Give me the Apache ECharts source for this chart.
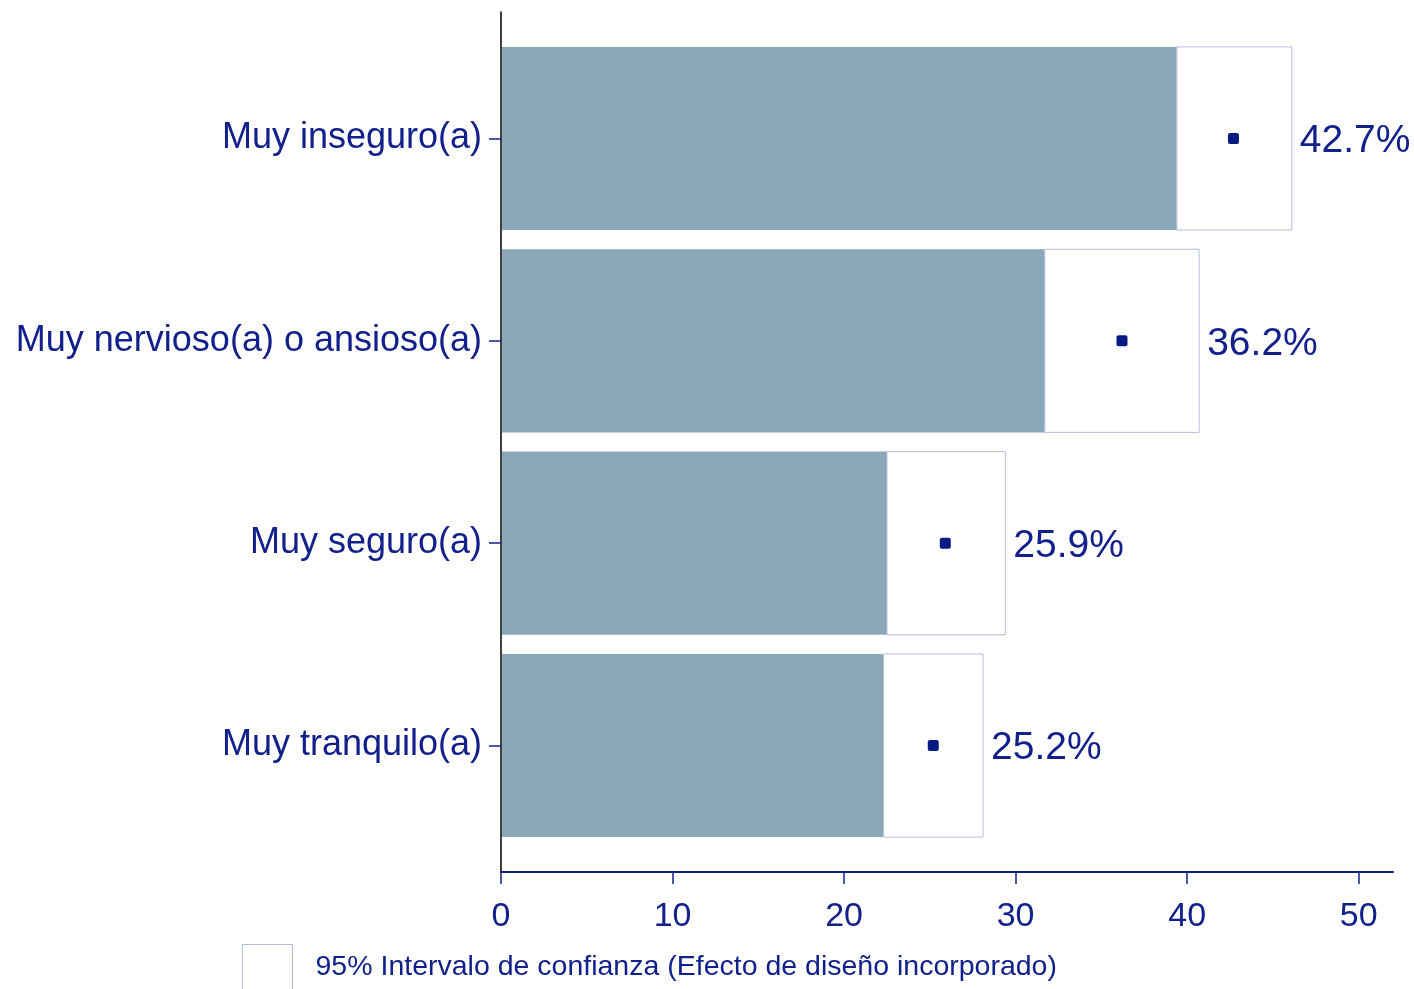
<!DOCTYPE html>
<html>
<head>
<meta charset="utf-8">
<title>Intervalo de confianza</title>
<script src="https://cdn.jsdelivr.net/npm/echarts@6/dist/echarts.min.js"></script>
<style>
  html, body { margin: 0; padding: 0; background: #fff; }
  #chart { width: 1414px; height: 989px; }
</style>
</head>
<body>
<div id="chart"></div>
<script>
// categorias (de arriba hacia abajo)
var categories = ['Muy inseguro(a)', 'Muy nervioso(a) o ansioso(a)', 'Muy seguro(a)', 'Muy tranquilo(a)'];
// estimacion puntual (%)
var estimates = [42.7, 36.2, 25.9, 25.2];
// limites del intervalo de confianza 95%
var lowerCI = [39.4, 31.7, 22.5, 22.3];
var upperCI = [46.1, 40.7, 29.4, 28.1];
var xTicks = [0, 10, 20, 30, 40, 50];

var navy = '#12208c';
var font = '"Liberation Sans", Arial, Helvetica, sans-serif';
var legendName = '95% Intervalo de confianza (Efecto de diseño incorporado)';

var chart = echarts.init(document.getElementById('chart'));

var seriesData = categories.map(function (c, i) {
    return [i, lowerCI[i], upperCI[i], estimates[i]];
});

chart.setOption({
    animation: false,
    backgroundColor: '#fff',
    grid: { left: 501, right: 21, top: 12, bottom: 117 },
    legend: {
        left: 242,
        top: 944,
        padding: 0,
        itemWidth: 50,
        itemHeight: 46,
        icon: 'rect',
        data: [legendName],
        textStyle: { color: navy, fontSize: 28.5, fontFamily: font, padding: [14, 0, 0, 18] },
        itemStyle: { color: '#fff', borderColor: '#b4bcdc', borderWidth: 1 }
    },
    xAxis: {
        type: 'value',
        min: 0,
        max: 52,
        axisLine: { show: true, onZero: false, lineStyle: { color: navy, width: 2 } },
        axisTick: { show: true, length: 12, lineStyle: { color: navy, width: 1.5 }, customValues: xTicks },
        axisLabel: { color: navy, fontSize: 34, fontFamily: font, margin: 28, customValues: xTicks },
        splitLine: { show: false }
    },
    yAxis: {
        type: 'value',
        inverse: true,
        min: -0.625,
        max: 3.625,
        axisLine: { show: true, onZero: false, lineStyle: { color: '#000', width: 1.5 } },
        axisTick: { show: true, length: 12, lineStyle: { color: navy, width: 1.5 }, customValues: [0, 1, 2, 3] },
        axisLabel: {
            color: navy, fontSize: 36, fontFamily: font, margin: 19,
            padding: [12, 0, 0, 0],
            customValues: [0, 1, 2, 3],
            formatter: function (v) { return categories[Math.round(v)]; }
        },
        splitLine: { show: false }
    },
    series: [{
        name: legendName,
        type: 'custom',
        coordinateSystem: 'cartesian2d',
        itemStyle: { color: '#fff', borderColor: '#b4bcdc', borderWidth: 1 },
        encode: { x: [1, 2, 3], y: 0 },
        data: seriesData,
        renderItem: function (params, api) {
            var i = api.value(0);
            var p0 = api.coord([0, i]);
            var pLo = api.coord([api.value(1), i]);
            var pHi = api.coord([api.value(2), i]);
            var pE = api.coord([api.value(3), i]);
            var h = api.size([0, 1])[1] * 0.905;
            var top = p0[1] - h / 2;
            return {
                type: 'group',
                children: [
                    { // barra hasta el limite inferior
                        type: 'rect',
                        shape: { x: p0[0] + 1, y: top, width: pLo[0] - p0[0] - 1, height: h },
                        style: { fill: '#8aa8ba' }
                    },
                    { // caja del intervalo
                        type: 'rect',
                        shape: { x: pLo[0], y: top, width: pHi[0] - pLo[0], height: h },
                        style: { fill: '#fff', stroke: '#b4bcdc', lineWidth: 1 }
                    },
                    { // estimacion puntual
                        type: 'rect',
                        shape: { x: pE[0] - 5.5, y: pE[1] - 5.5, width: 11, height: 11, r: 2 },
                        style: { fill: '#0a1a85' }
                    },
                    {
                        type: 'text',
                        style: {
                            text: api.value(3).toFixed(1) + '%',
                            x: pHi[0] + 8,
                            y: pE[1] + 3,
                            align: 'left',
                            verticalAlign: 'middle',
                            fill: navy,
                            fontSize: 39,
                            fontFamily: font
                        }
                    }
                ]
            };
        }
    }]
});
</script>
</body>
</html>
